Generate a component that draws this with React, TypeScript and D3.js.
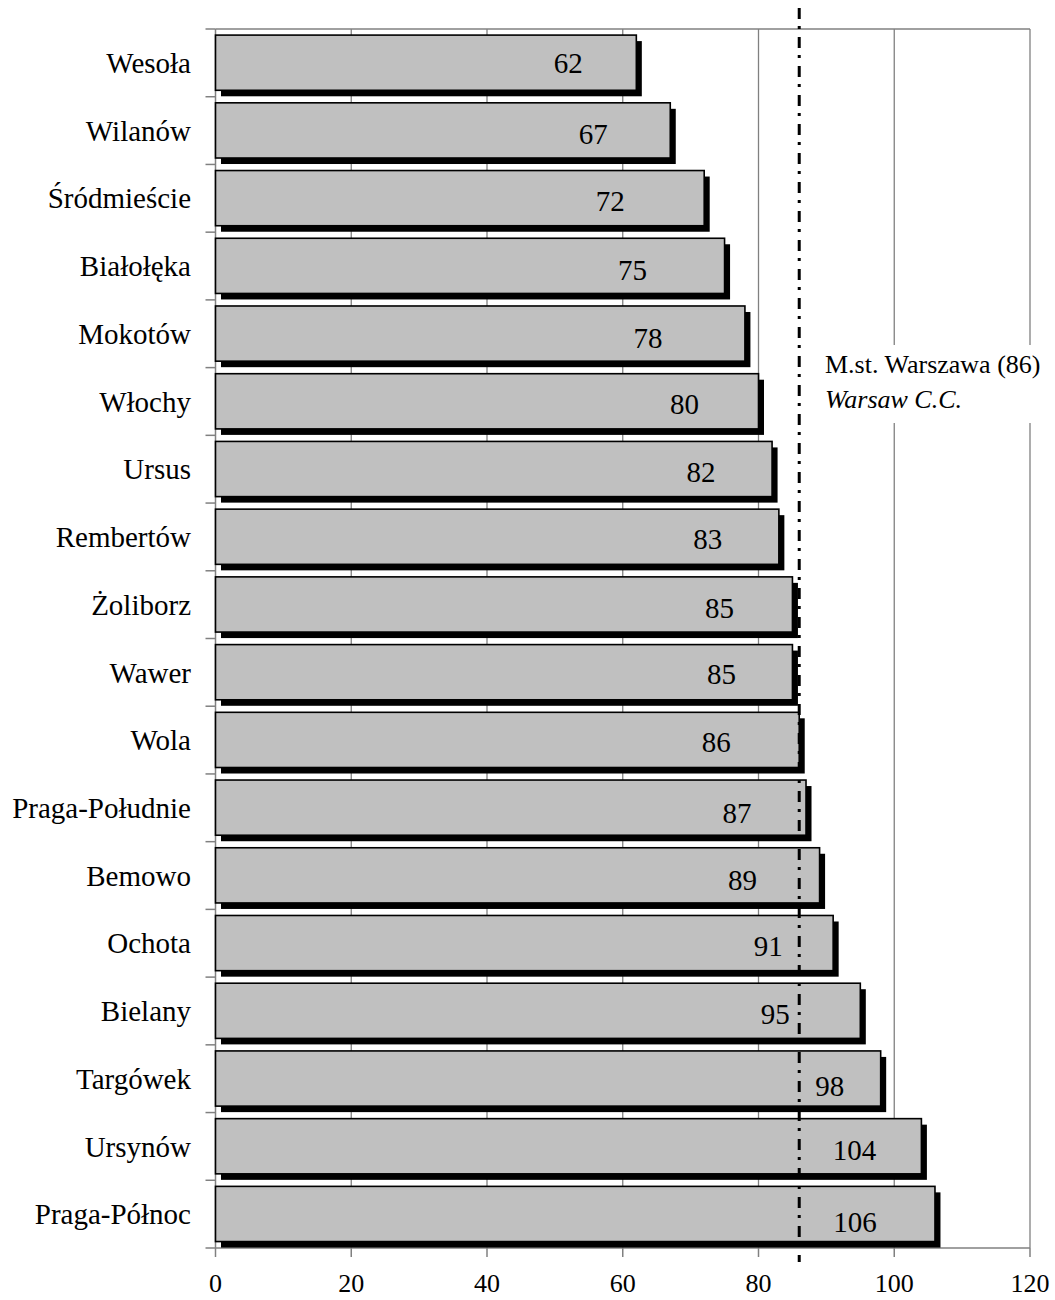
import React from "react";
import * as d3 from "d3";

// Districts of Warsaw, sorted by value (top to bottom)
const districts = [
  "Wesoła", "Wilanów", "Śródmieście", "Białołęka", "Mokotów", "Włochy",
  "Ursus", "Rembertów", "Żoliborz", "Wawer", "Wola", "Praga-Południe",
  "Bemowo", "Ochota", "Bielany", "Targówek", "Ursynów", "Praga-Północ",
];
const values = [62, 67, 72, 75, 78, 80, 82, 83, 85, 85, 86, 87, 89, 91, 95, 98, 104, 106];

// City-wide reference value
const cityValue = 86;
const cityLabel = "M.st. Warszawa (86)";
const cityLabelEn = "Warsaw C.C.";

const xTicks = [0, 20, 40, 60, 80, 100, 120];

// Hand-placed value labels: distance of the label centre back from the bar end (px)
const labelInset = [68, 77, 94, 92, 97, 74, 71, 71, 73, 71, 83, 69, 77, 65, 85, 51, 67, 80];
const labelDrop = [0, 3, 3, 4, 4, 3, 3, 2, 3, 2, 2, 5, 4, 3, 3, 7, 4, 8];

const W = 1055;
const H = 1300;
const left = 215.5;
const right = 1030;
const top = 29;
const bottom = 1248;
const FONT = "'Liberation Serif', 'Times New Roman', serif";

export default function App() {
  const x = d3.scaleLinear().domain([0, 120]).range([left, right]);
  const y = d3.scaleBand<string>().domain(districts).range([top, bottom]).padding(0);
  const bw = y.bandwidth();
  const barOff = bw * 0.09;
  const barH = bw * 0.815;
  const grey = "#808080";
  const boundaries = d3.range(districts.length + 1).map((i) => top + i * bw);
  const cx = x(cityValue);

  return (
    <svg
      width={W}
      height={H}
      style={{ position: "absolute", left: 0, top: 0, background: "#fff" }}
      fontFamily={FONT}
    >
      {/* plot frame and gridlines */}
      <line x1={left} x2={right} y1={top} y2={top} stroke={grey} strokeWidth={1.5} />
      {xTicks.slice(1).map((t) => (
        <line key={"g" + t} x1={x(t)} x2={x(t)} y1={top} y2={bottom} stroke={grey} strokeWidth={1.3} />
      ))}
      <line x1={left} x2={right} y1={bottom} y2={bottom} stroke={grey} strokeWidth={1.5} />
      <line x1={left} x2={left} y1={top} y2={bottom} stroke={grey} strokeWidth={1.5} />

      {/* x ticks */}
      {xTicks.map((t) => (
        <g key={"xt" + t}>
          <line x1={x(t)} x2={x(t)} y1={bottom} y2={bottom + 9} stroke={grey} strokeWidth={1.5} />
          <text x={x(t)} y={bottom + 44} textAnchor="middle" fontSize={26} fill="#000">
            {t}
          </text>
        </g>
      ))}

      {/* y ticks */}
      {boundaries.map((b, i) => (
        <line key={"yt" + i} x1={left - 10} x2={left} y1={b} y2={b} stroke={grey} strokeWidth={1.5} />
      ))}

      {/* bars with drop shadows */}
      {districts.map((d, i) => {
        const y0 = (y(d) as number) + barOff;
        const w = x(values[i]) - x(0);
        return (
          <g key={d}>
            <rect x={x(0) + 5.5} y={y0 + 6} width={w} height={barH} fill="#000" />
            <rect x={x(0)} y={y0} width={w} height={barH} fill="#c0c0c0" stroke="#000" strokeWidth={1.6} />
          </g>
        );
      })}

      {/* category labels */}
      {districts.map((d) => (
        <text
          key={"c" + d}
          x={191}
          y={(y(d) as number) + bw / 2}
          dy="0.35em"
          textAnchor="end"
          fontSize={29}
          fill="#000"
        >
          {d}
        </text>
      ))}

      {/* value labels */}
      {districts.map((d, i) => (
        <text
          key={"v" + d}
          x={x(values[i]) - labelInset[i]}
          y={(y(d) as number) + barOff + barH / 2 + labelDrop[i]}
          dy="0.35em"
          textAnchor="middle"
          fontSize={29}
          fill="#000"
        >
          {values[i]}
        </text>
      ))}

      {/* city reference line */}
      <line
        x1={cx}
        x2={cx}
        y1={0}
        y2={bottom + 14}
        stroke="#000"
        strokeWidth={3}
        strokeDasharray="11,7,3,8"
        strokeDashoffset={21}
      />

      {/* reference annotation */}
      <rect x={815} y={345} width={237} height={78} fill="#fff" />
      <text x={825} y={373} fontSize={26} fill="#000">
        {cityLabel}
      </text>
      <text x={825} y={408} fontSize={26} fontStyle="italic" fill="#000">
        {cityLabelEn}
      </text>
    </svg>
  );
}
